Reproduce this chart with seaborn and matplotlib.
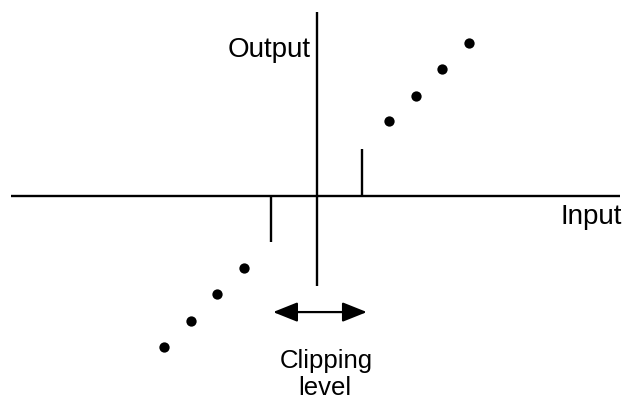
import matplotlib
matplotlib.use("Agg")
import matplotlib.pyplot as plt
import seaborn as sns
import pandas as pd

# Data (in "signal units"; origin at the axes crossing)
input_vals = [-5.74, -4.72, -3.74, -2.72, 2.75, 3.77, 4.75, 5.77]
output_vals = [-5.70, -4.72, -3.70, -2.72, 2.83, 3.77, 4.79, 5.77]
clip_pos = 1.75
clip_neg = -1.71
arrow_from = -1.62
arrow_to = 1.92
arrow_y = -4.38

df = pd.DataFrame({"input": input_vals, "output": output_vals})

sns.set_theme(style="white")
plt.rcParams["font.family"] = ["Liberation Sans", "DejaVu Sans"]

fig = plt.figure(figsize=(6.24, 4.0), dpi=100)
ax = fig.add_axes([0, 0, 1, 1])
ax.set_xlim(-11.925, 11.623)
ax.set_ylim(-7.698, 7.396)
ax.axis("off")

# Axes lines
ax.plot([-11.51, 11.47], [0, 0], color="black", lw=1.7, solid_capstyle="butt")
ax.plot([0.02, 0.02], [-3.40, 6.94], color="black", lw=1.7, solid_capstyle="butt")

# Clipping ticks
ax.plot([clip_pos, clip_pos], [0, 1.77], color="black", lw=1.7, solid_capstyle="butt")
ax.plot([clip_neg, clip_neg], [0, -1.74], color="black", lw=1.7, solid_capstyle="butt")

# Dots
sns.scatterplot(data=df, x="input", y="output", ax=ax, color="black",
                s=55, linewidth=0, legend=False)
ax.axis("off")

# Double arrow
ax.annotate("", xy=(arrow_to, arrow_y), xytext=(arrow_from, arrow_y),
            arrowprops=dict(arrowstyle="<|-|>,head_length=0.75,head_width=0.3",
                            mutation_scale=20, color="black", lw=1.6,
                            shrinkA=0, shrinkB=0))

# Labels
ax.text(-0.19, 5.245, "Output", ha="right", va="baseline", fontsize=20, color="black")
ax.text(11.55, -1.057, "Input", ha="right", va="baseline", fontsize=20, color="black")
ax.text(0.38, -6.49, "Clipping", ha="center", va="baseline", fontsize=18.5, color="black")
ax.text(0.34, -7.51, "level", ha="center", va="baseline", fontsize=18.5, color="black")

fig.savefig("out.png", dpi=100)
